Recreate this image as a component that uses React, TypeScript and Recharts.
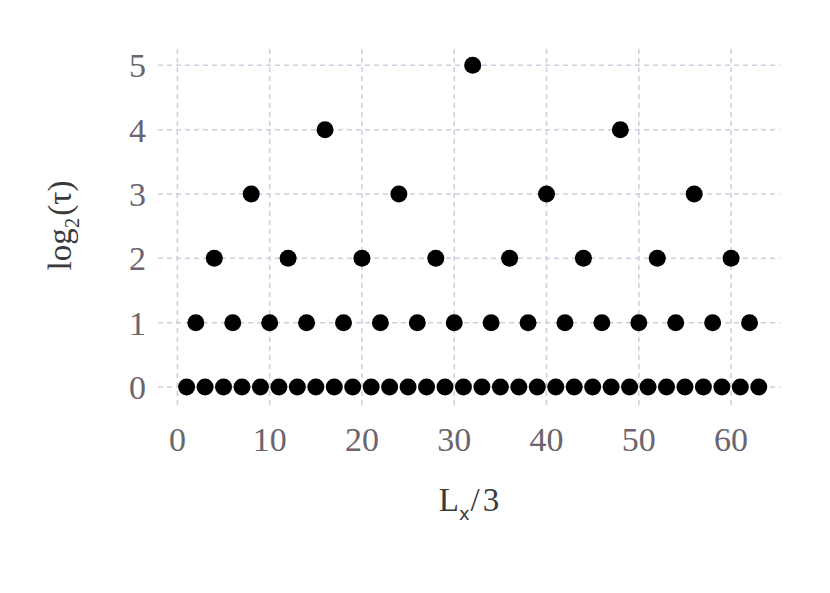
import { ScatterChart, Scatter, XAxis, YAxis, ReferenceLine, Label } from 'recharts';

const lxValues = [
  1, 2, 3, 4, 5, 6, 7, 8, 9, 10, 11, 12, 13, 14, 15, 16, 17, 18, 19, 20, 21,
  22, 23, 24, 25, 26, 27, 28, 29, 30, 31, 32, 33, 34, 35, 36, 37, 38, 39, 40, 41, 42,
  43, 44, 45, 46, 47, 48, 49, 50, 51, 52, 53, 54, 55, 56, 57, 58, 59, 60, 61, 62, 63,
];
const log2Tau = [
  0, 1, 0, 2, 0, 1, 0, 3, 0, 1, 0, 2, 0, 1, 0, 4, 0, 1, 0, 2, 0,
  1, 0, 3, 0, 1, 0, 2, 0, 1, 0, 5, 0, 1, 0, 2, 0, 1, 0, 3, 0, 1,
  0, 2, 0, 1, 0, 4, 0, 1, 0, 2, 0, 1, 0, 3, 0, 1, 0, 2, 0, 1, 0,
];
const xTicks = [0, 10, 20, 30, 40, 50, 60];
const yTicks = [0, 1, 2, 3, 4, 5];

const points = lxValues.map((x, i) => ({ x, y: log2Tau[i] }));

const serif = '"Liberation Serif", "DejaVu Serif", serif';
const tickStyle = { fontFamily: serif, fontSize: 34, fill: '#6b646e' };
const gridProps = { stroke: '#cfcde0', strokeWidth: 1.5, strokeDasharray: '5 4' };

const Dot = (props: any) => <circle cx={props.cx} cy={props.cy} r={8.5} fill="#000" />;

const XTitle = (props: any) => {
  const vb = props.viewBox;
  const cx = vb.x + vb.width / 2;
  return (
    <text x={cx} y={511} textAnchor="middle" fill="#3a3a3a" fontFamily={serif} fontSize={33}>
      <tspan>L</tspan>
      <tspan fontFamily='"DejaVu Sans", sans-serif' fontSize={18} dy={9}>x</tspan>
      <tspan dy={-9} dx={1}>/</tspan>
      <tspan dx={3}>3</tspan>
    </text>
  );
};

const YTitle = (props: any) => {
  const vb = props.viewBox;
  const cy = vb.y + vb.height / 2;
  return (
    <text
      x={71}
      y={cy}
      transform={`rotate(-90 71 ${cy})`}
      textAnchor="middle"
      fill="#3a3a3a"
      fontFamily={serif}
      fontSize={33}
    >
      <tspan>log</tspan>
      <tspan fontSize={21} dy={8}>2</tspan>
      <tspan dy={-8} dx={2}>(τ)</tspan>
    </text>
  );
};

export default function App() {
  return (
    <div style={{ position: 'absolute', left: 0, top: 0, width: 830, height: 593, background: '#fff' }}>
      <ScatterChart width={830} height={593} margin={{ top: 46, right: 50, left: 0, bottom: 0 }}>
        <XAxis
          type="number"
          dataKey="x"
          domain={[-2.1, 65.3]}
          ticks={xTicks}
          allowDataOverflow
          axisLine={false}
          tickLine={false}
          tickSize={0}
          tickMargin={22}
          height={188}
          tick={tickStyle}
        >
          <Label content={XTitle} />
        </XAxis>
        <YAxis
          type="number"
          dataKey="y"
          domain={[-0.28, 5.3]}
          ticks={yTicks}
          allowDataOverflow
          axisLine={false}
          tickLine={false}
          tickSize={0}
          tickMargin={12}
          width={158}
          tick={tickStyle}
        >
          <Label content={YTitle} />
        </YAxis>
        {xTicks.map((t) => (
          <ReferenceLine key={'vx' + t} x={t} {...gridProps} />
        ))}
        {yTicks.map((t) => (
          <ReferenceLine key={'hy' + t} y={t} {...gridProps} />
        ))}
        <Scatter data={points} shape={Dot} isAnimationActive={false} />
      </ScatterChart>
    </div>
  );
}
